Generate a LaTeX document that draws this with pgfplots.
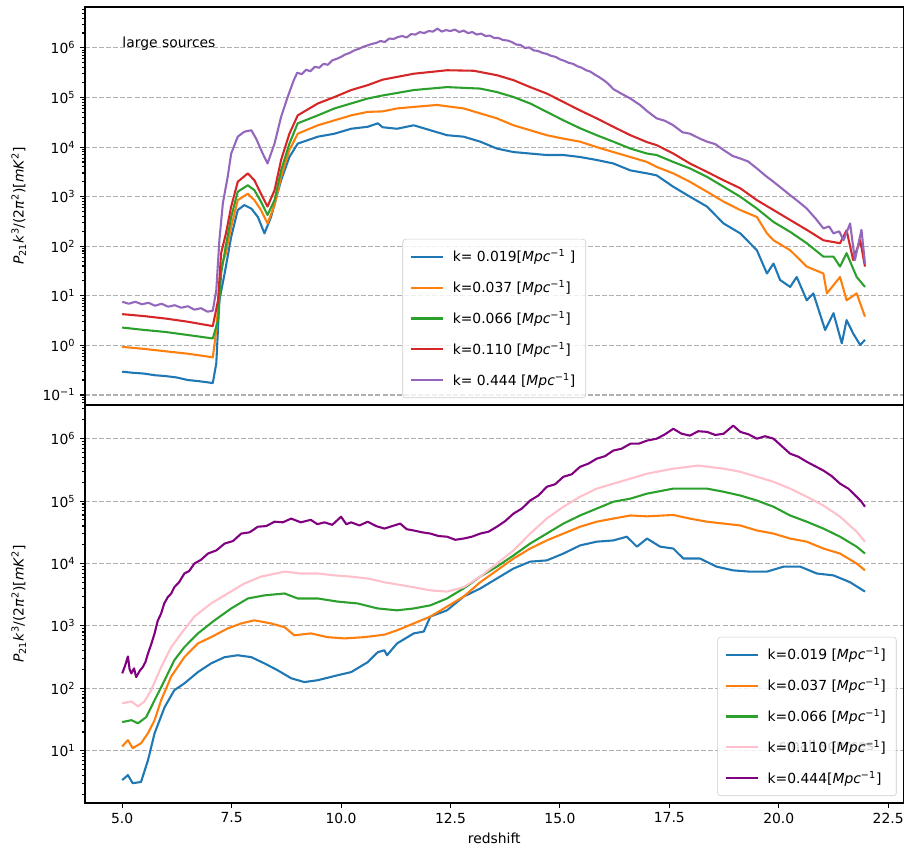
\documentclass[border=0pt]{standalone}
\usepackage{fontspec}
\setmainfont{DejaVu Sans}
\usepackage{pgfplots}
\pgfplotsset{compat=1.18}
\definecolor{c0}{RGB}{31,119,180}
\definecolor{c1}{RGB}{255,127,14}
\definecolor{c2}{RGB}{44,160,44}
\definecolor{c3}{RGB}{214,39,40}
\definecolor{c4}{RGB}{148,103,189}
\definecolor{cpink}{RGB}{255,192,203}
\definecolor{cpurple}{RGB}{128,0,128}
\definecolor{gridgray}{RGB}{176,176,176}
\definecolor{leggray}{RGB}{204,204,204}
\newcommand{\fs}{\fontsize{10}{12}\selectfont}
\newcommand{\unit}{[\textit{Mpc}\textsuperscript{−1}]}
\pgfplotsset{
  panel/.style={
    scale only axis, width=589.32pt, height=286.56pt,
    anchor=south west,
    xmin=4.15, xmax=22.85,
    axis line style={line width=0.8pt},
    every tick/.style={black, line width=0.8pt},
    major tick length=3.5pt, minor tick length=2pt,
    tick align=outside, xtick pos=left, ytick pos=left,
    ymajorgrids=true,
    major grid style={gridgray, line width=0.8pt, dash pattern=on 3.6pt off 1.5pt},
    tick label style={font=\fs},
    label style={font=\fs},
    ylabel={\textit{P}\textsubscript{21}\textit{k}\textsuperscript{3}/(2\textit{π}\textsuperscript{2})[\textit{mK}\textsuperscript{2}]},
    ylabel style={at={(axis description cs:-0.081,0.5)}, anchor=center},
    legend cell align=left,
    legend image code/.code={\draw[##1, line width=1.5pt] (0pt,0pt) -- (23pt,0pt);},
    legend style={font=\fs, fill=white, fill opacity=0.8, text opacity=1, draw opacity=1,
      draw=leggray, rounded corners=2pt, row sep=7pt, inner sep=5pt,
      nodes={inner sep=2.5pt},
      /tikz/every odd column/.append style={column sep=4pt}},
    every axis plot/.append style={line width=1.5pt, line join=round},
  }
}
\begin{document}
\begin{tikzpicture}
\useasboundingbox (0,0) rectangle (650.88pt,612pt);
% ---------------- top panel ----------------
\begin{axis}[ymode=log, panel, at={(61.2pt,320.4pt)},
  ymin=0.0628, ymax=6.7e6,
  xtick={5,7.5,10,12.5,15,17.5,20,22.5}, xticklabels={}, xmajorticks=false,
  ytick={0.1,1,10,100,1000,10000,100000,1000000},
  yticklabels={10\textsuperscript{−1},10\textsuperscript{0},10\textsuperscript{1},10\textsuperscript{2},10\textsuperscript{3},10\textsuperscript{4},10\textsuperscript{5},10\textsuperscript{6}},
  minor ytick={0.07,0.08,0.09,0.2,0.3,0.4,0.5,0.6,0.7,0.8,0.9,2,3,4,5,6,7,8,9,20,30,40,50,60,70,80,90,200,300,400,500,600,700,800,900,2000,3000,4000,5000,6000,7000,8000,9000,2e4,3e4,4e4,5e4,6e4,7e4,8e4,9e4,2e5,3e5,4e5,5e5,6e5,7e5,8e5,9e5,2e6,3e6,4e6,5e6,6e6},
  legend style={at={(0.5,0.0175)}, anchor=south},
]
\addplot[c0] coordinates {(5.00,0.295)(5.25,0.28)(5.5,0.27)(5.75,0.25)(6.0,0.24)(6.25,0.225)(6.5,0.20)(6.75,0.19)(7.07,0.174)(7.15,0.437)(7.22,8.13)(7.34,28.2)(7.49,155)(7.64,537)(7.79,676)(7.95,575)(8.10,389)(8.25,182)(8.40,389)(8.63,2138)(8.82,6310)(9.01,11750)(9.47,16220)(9.85,18620)(10.23,23440)(10.61,25700)(10.84,30200)(10.95,25120)(11.28,23440)(11.66,27540)(12.04,21880)(12.42,17380)(12.80,16220)(13.18,12880)(13.56,9333)(13.94,7943)(14.32,7413)(14.70,6918)(15.08,6918)(15.46,6310)(15.84,5495)(16.22,4677)(16.61,3388)(16.99,2951)(17.21,2692)(17.59,1585)(17.97,1000)(18.36,631)(18.74,288)(19.12,182)(19.50,83.2)(19.73,28.2)(19.88,44.7)(20.03,20.9)(20.26,15.1)(20.41,24.0)(20.64,8.13)(20.79,11.2)(21.06,2.04)(21.25,4.47)(21.44,1.10)(21.55,3.24)(21.70,1.74)(21.86,1.02)(21.97,1.29)};
\addlegendentry{k= 0.019[\textit{Mpc}\textsuperscript{−1} ]}
\addplot[c1] coordinates {(5.00,0.933)(5.5,0.85)(6.0,0.759)(6.5,0.68)(7.07,0.575)(7.15,2.04)(7.26,38.9)(7.37,72.4)(7.49,245)(7.64,851)(7.87,1148)(8.02,851)(8.17,537)(8.32,288)(8.48,676)(8.63,2512)(8.82,8710)(9.01,18620)(9.47,27540)(9.85,34670)(10.23,43650)(10.61,51290)(10.95,52480)(11.28,60260)(11.66,64570)(12.19,70790)(12.80,60260)(13.18,47860)(13.56,38020)(13.94,27540)(14.32,21880)(14.70,17380)(15.08,14790)(15.46,12880)(15.84,10000)(16.22,7943)(16.61,6310)(16.99,5012)(17.21,3981)(17.59,2951)(17.97,1995)(18.36,1259)(18.74,794)(19.12,537)(19.50,389)(19.73,182)(19.88,132)(20.26,83.2)(20.49,52.5)(20.64,38.9)(21.02,28.2)(21.10,11.2)(21.40,24.0)(21.55,8.13)(21.78,11.2)(21.97,3.80)};
\addlegendentry{k=0.037 \unit}
\addplot[c2] coordinates {(5.00,2.29)(5.5,2.05)(6.0,1.86)(6.5,1.62)(7.07,1.38)(7.19,3.24)(7.26,28.2)(7.37,105)(7.49,389)(7.64,1259)(7.87,1698)(8.02,1349)(8.17,794)(8.32,427)(8.48,851)(8.63,3388)(8.82,11750)(9.01,30200)(9.47,43650)(9.85,60260)(10.23,75860)(10.61,95500)(10.95,110000)(11.66,141300)(12.42,162200)(13.18,151400)(13.56,128800)(13.94,102300)(14.32,75860)(14.70,51290)(15.08,34670)(15.46,23990)(15.84,17380)(16.22,12880)(16.61,9333)(16.99,7413)(17.21,6918)(17.59,5012)(17.97,3715)(18.36,2512)(18.74,1585)(19.12,1000)(19.50,575)(19.88,309)(20.26,195)(20.64,115)(21.02,61.7)(21.25,61.7)(21.40,38.9)(21.55,72.4)(21.78,24.0)(21.97,15.1)};
\addlegendentry{k=0.066 \unit}
\addplot[c3] coordinates {(5.00,4.27)(5.5,3.9)(6.0,3.47)(6.5,3.0)(7.07,2.45)(7.19,8.13)(7.26,72.4)(7.37,182)(7.49,631)(7.64,1995)(7.87,2951)(8.02,2138)(8.17,1148)(8.32,631)(8.48,1349)(8.63,5495)(8.82,18620)(9.01,43650)(9.47,75860)(9.85,102300)(10.23,141300)(10.61,177800)(10.95,229100)(11.66,302000)(12.42,354800)(13.03,346700)(13.56,281800)(13.94,223900)(14.32,162200)(14.70,120200)(15.08,81280)(15.46,54950)(15.84,38020)(16.22,25700)(16.61,17380)(16.99,12600)(17.21,10960)(17.59,7413)(17.97,4677)(18.36,3162)(18.74,2138)(19.12,1479)(19.50,851)(19.88,537)(20.26,339)(20.64,214)(21.02,132)(21.40,115)(21.55,209)(21.70,52.5)(21.86,132)(21.97,38.9)};
\addlegendentry{k=0.110 \unit}
\addplot[c4] coordinates {(5.00,7.59)(5.15,6.92)(5.30,7.59)(5.45,6.76)(5.60,7.24)(5.75,6.31)(5.90,6.92)(6.05,6.03)(6.20,6.46)(6.35,5.75)(6.50,6.17)(6.65,5.25)(6.80,5.62)(6.95,4.79)(7.07,5.01)(7.15,13.2)(7.22,132)(7.30,741)(7.41,2512)(7.49,7413)(7.64,16220)(7.79,20420)(7.95,21880)(8.06,14790)(8.21,7413)(8.32,4677)(8.48,11750)(8.63,40740)(8.78,102300)(8.92,223900)(9.00,316200)(9.10,295100)(9.20,363100)(9.30,338800)(9.40,416900)(9.50,398100)(9.60,478600)(9.70,457100)(9.80,562300)(9.90,602600)(10.00,660700)(10.10,741300)(10.20,794300)(10.30,891300)(10.40,955000)(10.50,1047000)(10.60,1122000)(10.70,1202000)(10.80,1259000)(10.90,1380000)(11.00,1318000)(11.10,1549000)(11.20,1514000)(11.30,1660000)(11.40,1738000)(11.50,1622000)(11.60,1905000)(11.70,1862000)(11.80,2089000)(11.90,1995000)(12.00,2188000)(12.10,2138000)(12.20,2455000)(12.30,2138000)(12.40,2291000)(12.50,2188000)(12.60,2344000)(12.70,2089000)(12.80,2239000)(12.90,1995000)(13.00,2089000)(13.10,1862000)(13.20,1950000)(13.30,1738000)(13.40,1778000)(13.50,1585000)(13.60,1585000)(13.70,1445000)(13.80,1413000)(13.90,1318000)(14.00,1175000)(14.10,1148000)(14.20,1000000)(14.30,1023000)(14.40,891300)(14.50,871000)(14.60,794300)(14.70,758600)(14.80,691800)(14.90,660700)(15.00,588800)(15.10,549500)(15.20,501200)(15.30,478600)(15.40,426600)(15.50,398100)(15.60,354800)(15.70,331100)(15.80,288400)(15.90,257000)(16.00,223900)(16.10,190500)(16.22,147900)(16.40,120200)(16.61,95500)(16.83,70790)(17.00,52480)(17.21,38020)(17.40,33880)(17.59,27540)(17.80,19950)(17.97,18620)(18.20,14790)(18.36,12880)(18.55,11480)(18.74,8710)(18.95,6607)(19.12,5888)(19.30,5129)(19.50,3715)(19.70,2630)(19.88,1995)(20.05,1514)(20.26,1072)(20.45,794)(20.64,575)(20.85,355)(21.02,229)(21.15,251)(21.25,182)(21.38,200)(21.48,132)(21.63,288)(21.74,52.5)(21.82,112)(21.89,214)(21.97,44.7)};
\addlegendentry{k= 0.444 \unit}
\node[anchor=base west, font=\fs, inner sep=0pt] at (axis cs:5,1e6) {large sources};
\end{axis}
% ---------------- bottom panel ----------------
\begin{axis}[ymode=log, panel, at={(61.2pt,33.84pt)},
  ymin=1.455, ymax=3.47e6,
  xtick={5,7.5,10,12.5,15,17.5,20,22.5},
  xticklabels={5.0,7.5,10.0,12.5,15.0,17.5,20.0,22.5},
  xlabel={redshift},
  ytick={10,100,1000,10000,100000,1000000},
  yticklabels={10\textsuperscript{1},10\textsuperscript{2},10\textsuperscript{3},10\textsuperscript{4},10\textsuperscript{5},10\textsuperscript{6}},
  minor ytick={2,3,4,5,6,7,8,9,20,30,40,50,60,70,80,90,200,300,400,500,600,700,800,900,2000,3000,4000,5000,6000,7000,8000,9000,2e4,3e4,4e4,5e4,6e4,7e4,8e4,9e4,2e5,3e5,4e5,5e5,6e5,7e5,8e5,9e5,2e6,3e6},
  legend style={at={(0.9915,0.0175)}, anchor=south east},
]
\node[anchor=base west, font=\fs, inner sep=0pt] at (axis cs:20,10) {small sources};
\addplot[c0] coordinates {(5.00,3.39)(5.13,4.07)(5.24,3.02)(5.43,3.16)(5.59,7.08)(5.74,19.1)(5.97,50.1)(6.19,93.3)(6.42,120)(6.73,182)(7.03,251)(7.34,316)(7.64,339)(7.95,316)(8.25,251)(8.55,195)(8.86,145)(9.16,126)(9.47,135)(9.92,162)(10.23,182)(10.61,263)(10.84,380)(10.99,407)(11.05,339)(11.28,525)(11.66,759)(11.89,813)(12.04,1413)(12.42,1778)(12.80,2951)(13.18,3981)(13.56,5754)(13.94,8318)(14.32,10720)(14.70,11220)(15.08,14450)(15.46,19500)(15.84,22390)(16.22,23440)(16.53,26920)(16.76,18620)(16.99,25120)(17.29,18620)(17.59,17380)(17.82,12020)(18.20,12020)(18.58,8913)(18.96,7762)(19.34,7413)(19.73,7413)(20.11,8913)(20.49,8913)(20.87,6918)(21.25,6457)(21.63,5012)(21.97,3548)};
\addlegendentry{k=0.019 \unit}
\addplot[c1] coordinates {(5.00,11.7)(5.13,14.8)(5.24,11.0)(5.43,13.2)(5.59,19.1)(5.74,30.9)(5.89,64.6)(6.12,155)(6.42,316)(6.73,525)(7.03,661)(7.41,912)(7.72,1096)(8.02,1230)(8.40,1096)(8.71,955)(8.93,708)(9.31,759)(9.69,661)(10.08,631)(10.53,661)(10.99,724)(11.28,851)(11.66,1096)(12.04,1413)(12.42,2042)(12.80,2951)(13.18,5012)(13.56,7762)(13.94,12020)(14.32,17380)(14.70,23440)(15.08,30200)(15.46,38900)(15.84,46770)(16.22,52480)(16.61,58880)(16.99,57000)(17.59,60000)(17.97,52480)(18.36,46770)(18.74,43650)(19.12,40740)(19.50,33880)(19.88,30200)(20.26,25120)(20.64,22390)(21.02,17380)(21.40,14450)(21.78,10000)(21.97,7762)};
\addlegendentry{k=0.037 \unit}
\addplot[c2] coordinates {(5.00,28.8)(5.21,30.9)(5.36,27.5)(5.55,34.7)(5.74,64.6)(5.97,135)(6.19,282)(6.42,457)(6.73,759)(7.11,1230)(7.49,1905)(7.87,2754)(8.25,3090)(8.71,3311)(9.01,2754)(9.47,2754)(9.92,2455)(10.38,2291)(10.84,1905)(11.28,1778)(11.66,1905)(12.04,2138)(12.42,2754)(12.80,3981)(13.18,6166)(13.56,8913)(13.94,13490)(14.32,20890)(14.70,30200)(15.08,43650)(15.46,58880)(15.84,75860)(16.22,97720)(16.61,109600)(16.99,131800)(17.59,158500)(18.36,158500)(18.74,141300)(19.12,123000)(19.50,102300)(19.88,81280)(20.26,58880)(20.64,46770)(21.02,36310)(21.40,26920)(21.78,18620)(21.97,14450)};
\addlegendentry{k=0.066 \unit}
\addplot[cpink] coordinates {(5.00,57.5)(5.21,61.7)(5.36,51.3)(5.51,61.7)(5.66,93.3)(5.89,219)(6.12,457)(6.35,759)(6.65,1413)(7.03,2291)(7.41,3311)(7.79,4786)(8.17,6166)(8.71,7413)(9.08,6918)(9.47,6918)(9.85,6457)(10.23,6166)(10.61,5754)(10.99,5012)(11.66,4169)(12.04,3715)(12.42,3548)(12.80,4169)(13.18,6166)(13.56,10000)(13.94,16220)(14.32,30200)(14.70,52480)(15.08,81280)(15.46,117500)(15.84,158500)(16.22,190500)(16.61,229100)(16.99,275400)(17.59,331100)(18.16,371500)(18.74,331100)(19.12,295100)(19.50,245500)(19.88,204200)(20.26,158500)(20.64,117500)(21.02,85110)(21.40,56230)(21.78,32360)(21.97,22390)};
\addlegendentry{k=0.110 \unit}
\addplot[cpurple] coordinates {(5.00,174)(5.06,224)(5.13,324)(5.17,200)(5.21,174)(5.27,209)(5.32,151)(5.40,191)(5.47,219)(5.53,263)(5.59,363)(5.66,501)(5.74,759)(5.81,1202)(5.89,1585)(5.96,2291)(6.04,2884)(6.12,3311)(6.19,4169)(6.30,5012)(6.42,6918)(6.53,7586)(6.65,10000)(6.80,11480)(6.96,14450)(7.15,16220)(7.34,20890)(7.53,22910)(7.72,30200)(7.91,31620)(8.10,38900)(8.29,39810)(8.48,46770)(8.67,45710)(8.86,52480)(9.08,45710)(9.31,50120)(9.46,42660)(9.62,45710)(9.80,41690)(10.00,56230)(10.12,42660)(10.23,45710)(10.42,40740)(10.61,46770)(10.80,39810)(10.99,36310)(11.17,39810)(11.35,43650)(11.50,35480)(11.66,33880)(11.85,31620)(12.04,30200)(12.23,27540)(12.42,26920)(12.61,23990)(12.80,25120)(12.99,26920)(13.18,30200)(13.37,32360)(13.56,38900)(13.75,47860)(13.94,63100)(14.13,75860)(14.32,102300)(14.51,123000)(14.70,169800)(14.89,186200)(15.08,245500)(15.27,269200)(15.46,354800)(15.65,398100)(15.84,478600)(16.03,524800)(16.22,645700)(16.41,691800)(16.61,831800)(16.80,831800)(16.99,933300)(17.21,1000000)(17.40,1175000)(17.59,1445000)(17.78,1202000)(17.97,1122000)(18.16,1318000)(18.36,1288000)(18.55,1148000)(18.74,1202000)(18.96,1622000)(19.12,1288000)(19.31,1175000)(19.50,1000000)(19.69,1096000)(19.88,1000000)(20.07,758600)(20.26,575400)(20.45,512900)(20.64,426600)(20.83,363100)(21.02,309000)(21.21,251200)(21.40,190500)(21.59,158500)(21.78,117500)(21.88,100000)(21.97,81280)};
\addlegendentry{k=0.444\unit}
\end{axis}
\end{tikzpicture}
\end{document}
